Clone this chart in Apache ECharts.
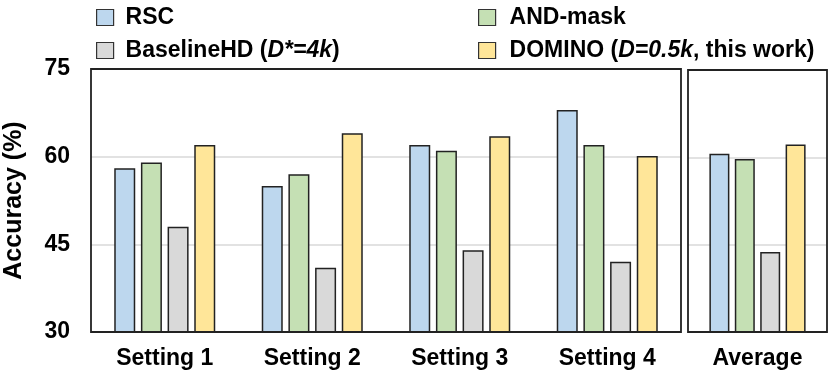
<!DOCTYPE html>
<html><head><meta charset="utf-8">
<script src="https://cdn.jsdelivr.net/npm/echarts@6/dist/echarts.min.js"></script>
<style>html,body{margin:0;padding:0;background:#fff}#c{width:830px;height:374px}</style>
</head><body><div id="c"></div>
<script>
const categories = ['Setting 1', 'Setting 2', 'Setting 3', 'Setting 4'];
const avgCategory = ['Average'];
const seriesNames = ['RSC', 'AND-mask', 'BaselineHD', 'DOMINO'];
const rsc = [58, 55, 62, 68];
const andMask = [59, 57, 61, 62];
const baselineHD = [48, 41, 44, 42];
const domino = [62, 64, 63.5, 60.1];
const rscAvg = [60.6];
const andMaskAvg = [59.7];
const baselineHDAvg = [43.75];
const dominoAvg = [62.2];
const yTicks = [30, 45, 60, 75];

const colors = ['#BDD7EE', '#C5E0B4', '#D9D9D9', '#FFE699'];
const FONT = '"Liberation Sans", Arial, sans-serif';
const FS = 23;
const chart = echarts.init(document.getElementById('c'), null, {renderer: 'canvas'});

const richTxt = {
  b: {fontFamily: FONT, fontWeight: 'bold', fontSize: FS, color: '#000'},
  i: {fontFamily: FONT, fontWeight: 'bold', fontStyle: 'italic', fontSize: FS, color: '#000'}
};
const legendLabels = {
  'RSC': '{b|RSC}',
  'AND-mask': '{b|AND-mask}',
  'BaselineHD': '{b|BaselineHD (}{i|D*=4k}{b|)}',
  'DOMINO': '{b|DOMINO (}{i|D=0.5k}{b|, this work)}'
};
const legendPos = [[96, 6, 7], [478, 6, 9], [96, 39, 7], [478, 39, 9]];
const legends = seriesNames.map((n, k) => ({
  data: [n], left: legendPos[k][0], top: legendPos[k][1],
  itemWidth: 17, itemHeight: 16, itemGap: 0, padding: 0,
  icon: 'rect',
  selectedMode: false,
  formatter: nm => legendLabels[nm],
  textStyle: {padding: [0, 0, 0, legendPos[k][2]], rich: richTxt},
  itemStyle: {borderColor: '#333', borderWidth: 1.2}
}));

const yAx = (gi, showLabels) => ({
  type: 'value', gridIndex: gi, min: yTicks[0], max: yTicks[yTicks.length - 1], interval: 15,
  axisLine: {show: false}, axisTick: {show: false},
  axisLabel: {show: showLabels, fontFamily: FONT, fontWeight: 'bold', fontSize: FS, color: '#000', margin: 21},
  splitLine: {show: true, lineStyle: {color: '#D9D9D9', width: 1.5}},
  name: showLabels ? 'Accuracy (%)' : '', nameLocation: 'middle', nameRotate: 90, nameGap: 64,
  nameTextStyle: {fontFamily: FONT, fontWeight: 'bold', fontSize: 25, color: '#000'}
});
const xAx = (gi, data) => ({
  type: 'category', gridIndex: gi, data: data,
  axisLine: {show: false}, axisTick: {show: false},
  axisLabel: {fontFamily: FONT, fontWeight: 'bold', fontSize: FS, color: '#000', margin: 15}
});

const mainData = [rsc, andMask, baselineHD, domino];
const avgData = [rscAvg, andMaskAvg, baselineHDAvg, dominoAvg];
const series = [];
seriesNames.forEach((n, k) => {
  series.push({name: n, type: 'bar', xAxisIndex: 0, yAxisIndex: 0, data: mainData[k],
    barWidth: 21, barGap: '27%',
    itemStyle: {color: colors[k], borderColor: '#222', borderWidth: 1.5}, emphasis: {disabled: true}});
});
seriesNames.forEach((n, k) => {
  series.push({name: n, type: 'bar', xAxisIndex: 1, yAxisIndex: 1, data: avgData[k],
    barWidth: 20, barGap: '27%',
    itemStyle: {color: colors[k], borderColor: '#222', borderWidth: 1.5}, emphasis: {disabled: true}});
});

chart.setOption({
  animation: false,
  backgroundColor: '#fff',
  legend: legends,
  grid: [
    {left: 91, right: 149, top: 69, bottom: 42, outerBoundsMode: 'none', containLabel: false, show: true, borderColor: '#222', borderWidth: 1.8, backgroundColor: 'transparent', z: 5},
    {left: 688, right: 3, top: 70, bottom: 42, outerBoundsMode: 'none', containLabel: false, show: true, borderColor: '#222', borderWidth: 1.8, backgroundColor: 'transparent', z: 5}
  ],
  xAxis: [xAx(0, categories), xAx(1, avgCategory)],
  yAxis: [yAx(0, true), yAx(1, false)],
  series: series
});
</script></body></html>
